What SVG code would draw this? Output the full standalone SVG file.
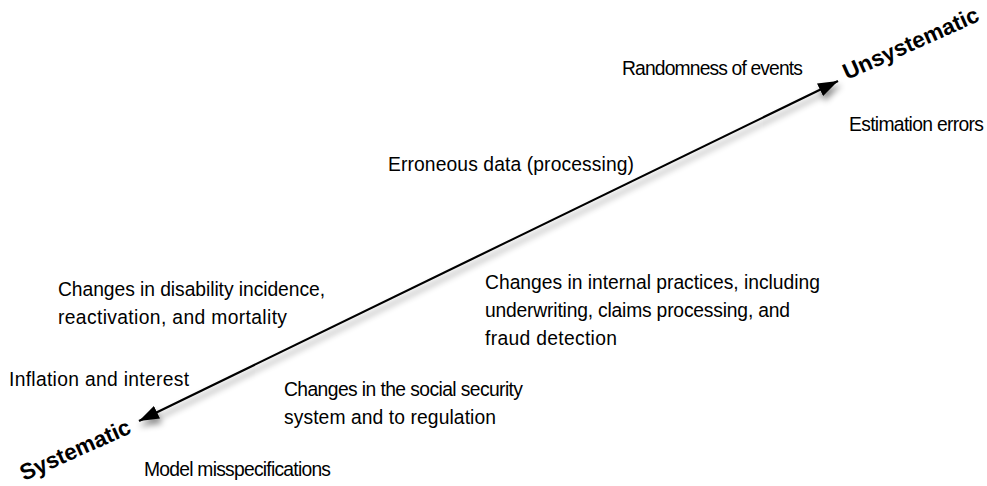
<svg xmlns="http://www.w3.org/2000/svg" width="987" height="486" viewBox="0 0 987 486">
<style>
.t{font-family:"Liberation Sans",Arial,sans-serif;font-size:19.3px;fill:#000}
.b{font-family:"Liberation Sans",Arial,sans-serif;font-size:22.5px;font-weight:bold;fill:#000}
</style>
<defs>
<marker id="ah" viewBox="0 0 20 14" refX="20" refY="7" markerWidth="20" markerHeight="14" markerUnits="userSpaceOnUse" orient="auto-start-reverse">
<path d="M0,0 L20,7 L0,14 z" fill="#000"/>
</marker>
<filter id="sh" x="-10%" y="-10%" width="120%" height="130%">
<feDropShadow dx="2" dy="5" stdDeviation="3" flood-color="#000" flood-opacity="0.45"/>
</filter>
</defs>
<rect width="987" height="486" fill="#fff"/>
<g id="connectors">
<line x1="139" y1="421" x2="838" y2="81" stroke="#000" stroke-width="2.2" marker-start="url(#ah)" marker-end="url(#ah)" filter="url(#sh)"/>
</g>
<g id="unsystematic"><text class="b" transform="translate(847,80) rotate(-24)">Unsystematic</text></g>
<g id="systematic"><text class="b" transform="translate(24,481) rotate(-24)">Systematic</text></g>
<g id="randomness"><text class="t" x="622" y="75" textLength="181">Randomness of events</text></g>
<g id="estimation"><text class="t" x="849" y="131" textLength="135">Estimation errors</text></g>
<g id="erroneous"><text class="t" x="388" y="171" textLength="246">Erroneous data (processing)</text></g>
<g id="disability"><text class="t" x="58" y="296" textLength="267">Changes in disability incidence,</text><text class="t" x="58" y="324" textLength="229">reactivation, and mortality</text></g>
<g id="internal"><text class="t" x="485" y="289" textLength="335">Changes in internal practices, including</text><text class="t" x="485" y="317" textLength="305">underwriting, claims processing, and</text><text class="t" x="485" y="345" textLength="132">fraud detection</text></g>
<g id="inflation"><text class="t" x="9" y="386" textLength="180">Inflation and interest</text></g>
<g id="social"><text class="t" x="284" y="396" textLength="239">Changes in the social security</text><text class="t" x="284" y="424" textLength="212">system and to regulation</text></g>
<g id="model"><text class="t" x="144" y="476" textLength="187">Model misspecifications</text></g>
</svg>
